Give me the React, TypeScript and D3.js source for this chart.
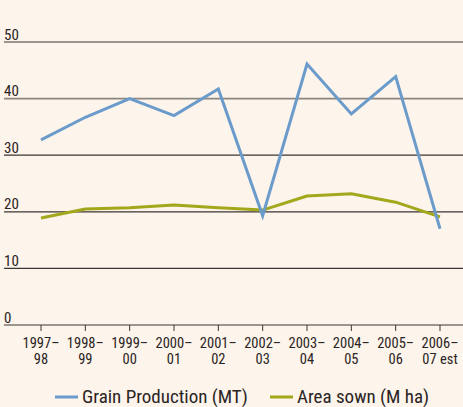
import React from 'react';
import * as d3 from 'd3';

const years = ['1997–|98', '1998–|99', '1999–|00', '2000–|01', '2001–|02', '2002–|03', '2003–|04', '2004–|05', '2005–|06', '2006–|07 est'];
const grain = [32.7, 36.7, 40.0, 37.0, 41.7, 19.3, 46.1, 37.3, 43.9, 17.0];
const area = [18.9, 20.5, 20.7, 21.2, 20.7, 20.3, 22.8, 23.2, 21.7, 19.1];
const yTicks = [0, 10, 20, 30, 40, 50];

const W = 463;
const H = 407;
const FONT = '"Liberation Sans Narrow", "Roboto Condensed", "Liberation Sans", sans-serif';

const App = () => {
  const x = d3.scalePoint<string>().domain(years).range([41, 440]);
  const y = d3.scaleLinear().domain([0, 50]).range([325, 42]);
  const line = d3.line<number>().x((d, i) => x(years[i])!).y(d => y(d));

  return (
    <svg width={W} height={H} style={{ position: 'absolute', left: 0, top: 0, background: '#fdf4eb' }}>
      <rect width={W} height={H} fill="#fdf4eb" />
      {yTicks.map(t => (
        <g key={t}>
          <line x1={4} x2={W} y1={y(t)} y2={y(t)} stroke={t === 40 ? '#8c8680' : '#3d3535'} strokeWidth={t === 40 ? 1.6 : 1.2} />
          <text x={4} y={y(t) - 2.5} fontFamily={FONT} fontSize={15} fill="#2a2424">{t}</text>
        </g>
      ))}
      {years.map(c => (
        <g key={c} transform={`translate(${x(c)},${y(0)})`}>
          <line y1={0} y2={6} stroke="#3d3535" strokeWidth={1} />
          {c.split('|').map((s, i) => (
            <text key={i} y={23 + i * 16} textAnchor="middle" fontFamily={FONT} fontSize={14.5} fill="#2a2424">{s}</text>
          ))}
        </g>
      ))}
      <path d={line(area)!} fill="none" stroke="#a2a71b" strokeWidth={3} strokeLinejoin="round" />
      <path d={line(grain)!} fill="none" stroke="#6b9bcb" strokeWidth={3} strokeLinejoin="miter" />
      <g transform="translate(0,397)">
        <line x1={55} x2={78} stroke="#6b9bcb" strokeWidth={3} />
        <text x={82} y={5.5} fontFamily={FONT} fontSize={19} fill="#2a2424">Grain Production (MT)</text>
        <line x1={270} x2={293} stroke="#a2a71b" strokeWidth={3} />
        <text x={297} y={5.5} fontFamily={FONT} fontSize={19} fill="#2a2424">Area sown (M ha)</text>
      </g>
    </svg>
  );
};

export default App;
